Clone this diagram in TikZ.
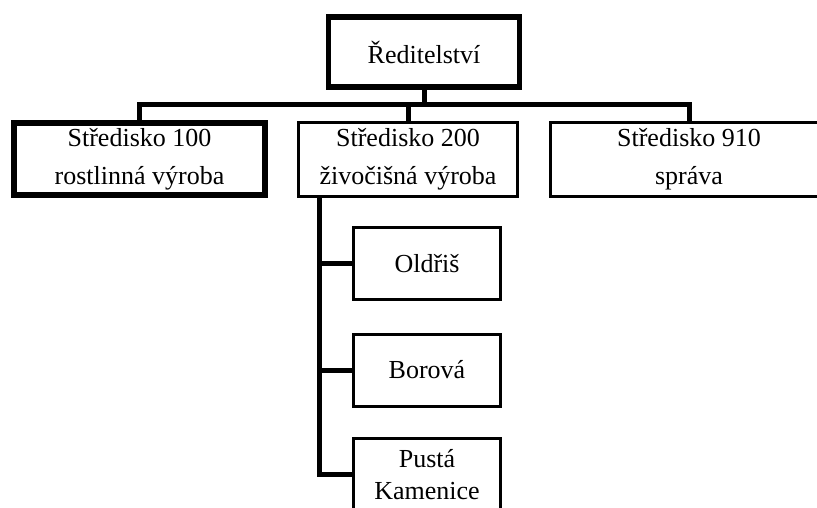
\documentclass[tikz,border=0pt]{standalone}
\usepackage{fontspec}
\setmainfont{Liberation Serif}
\begin{document}
\begin{tikzpicture}[x=1pt,y=-1pt,
    unit/.style={shape=rectangle,draw=black,line width=3pt,inner sep=0pt,
      align=center,font=\fontsize{26}{38}\selectfont},
    head/.style={unit,line width=5.5pt},
    farm/.style={unit,minimum width=147pt,minimum height=72pt},
    link/.style={draw=black,line width=5pt}]
    \useasboundingbox (0,0) rectangle (817,507);
    \clip (0,0) rectangle (817,507);
    \node[head,minimum width=191pt,minimum height=70pt] (red) at (424,52) {Ředitelství};
    \node[head,minimum width=251pt,minimum height=72pt] (s100) at (139.5,159) {Středisko 100\\rostlinná výroba};
    \node[unit,minimum width=219pt,minimum height=74pt] (s200) at (408,159) {Středisko 200\\živočišná výroba};
    \node[unit,minimum width=277pt,minimum height=74pt] (s910) at (689,159) {Středisko 910\\správa};
    \node[farm] (oldris) at (427,263.5) {Oldřiš};
    \node[farm] (borova) at (427,370) {Borová};
    \node[farm,font=\fontsize{26}{32}\selectfont] (pusta) at (427,474.5) {Pustá\\Kamenice};
    \coordinate (fork) at (424,104);
    \coordinate (spine) at (319,0);
    \draw[link] (red.south) -- (fork);
    \draw[link] (s100.north) |- (fork) -| (s910.north);
    \draw[link] (s200.north) -- (s200.north |- fork);
    \draw[link] (spine |- s200.south) -- (spine |- pusta.west) -- (pusta.west);
    \draw[link] (spine |- oldris.west) -- (oldris.west);
    \draw[link] (spine |- borova.west) -- (borova.west);
\end{tikzpicture}
\end{document}
